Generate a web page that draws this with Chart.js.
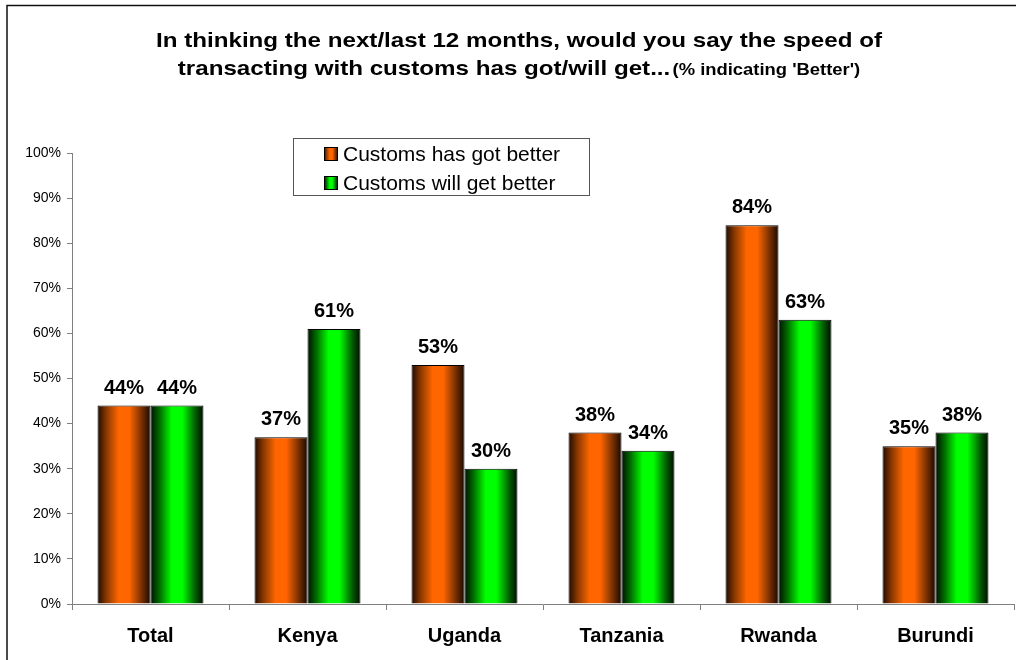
<!DOCTYPE html>
<html>
<head>
    <title>Customs speed - better</title>
    <script src="https://cdn.jsdelivr.net/npm/chart.js"></script>
    <style>
        html, body { margin: 0; padding: 0; background: #fff; }
        #wrap { width: 1016px; height: 660px; }
    </style>
</head>
<body>
    <div id="wrap"><canvas id="customsChart" width="1016" height="660"></canvas></div>
    <script>
        const categories = ['Total', 'Kenya', 'Uganda', 'Tanzania', 'Rwanda', 'Burundi'];
        const hasGotBetter = [44, 37, 53, 38, 84, 35];
        const willGetBetter = [44, 61, 30, 34, 63, 38];
        const yTicks = [0, 10, 20, 30, 40, 50, 60, 70, 80, 90, 100];

        const CAT_PCT = 0.675;

        // cylinder-style shading across each bar
        const orangeStops = [[0, '#200a00'], [0.17, '#8a3800'], [0.4, '#ff6600'], [0.6, '#ff6600'], [0.85, '#6e2c00'], [1, '#1a0800']];
        const greenStops = [[0, '#001000'], [0.17, '#006c00'], [0.4, '#00ff00'], [0.6, '#00ff00'], [0.85, '#005a00'], [1, '#000c00']];

        function barFill(stops) {
            return function(c) {
                const chart = c.chart;
                const xs = chart.scales && chart.scales.x;
                if (c.type !== 'data' || !xs) return stops[2][1];
                const barW = xs.width / categories.length * CAT_PCT / 2;
                const left = xs.getPixelForValue(c.dataIndex) - barW + c.datasetIndex * barW;
                if (!isFinite(left) || !isFinite(barW) || barW <= 0) return stops[2][1];
                const g = chart.ctx.createLinearGradient(left, 0, left + barW, 0);
                stops.forEach(s => g.addColorStop(s[0], s[1]));
                return g;
            };
        }

        //Title, frame, legend box and value labels
        const decorations = {
            id: 'decorations',
            beforeDraw(chart) {
                const ctx = chart.ctx;
                ctx.save();
                ctx.strokeStyle = '#111';
                ctx.lineWidth = 1.5;
                ctx.strokeRect(7, 5.5, 1200, 1000);
                ctx.restore();
            },
            afterDatasetsDraw(chart) {
                const ctx = chart.ctx;
                ctx.save();
                ctx.fillStyle = '#000';
                ctx.font = 'bold 20px "Liberation Sans", Arial, sans-serif';
                ctx.textAlign = 'center';
                ctx.textBaseline = 'alphabetic';
                chart.data.datasets.forEach((ds, di) => {
                    chart.getDatasetMeta(di).data.forEach((el, i) => {
                        ctx.fillText(ds.data[i] + '%', el.x, el.y - 12);
                    });
                });
                ctx.restore();
            },
            afterDraw(chart) {
                const ctx = chart.ctx;
                const big = 'bold 21px "Liberation Sans", Arial, sans-serif';
                const small = 'bold 16px "Liberation Sans", Arial, sans-serif';
                const cx = 519;
                const stretch = 1.15; // title glyphs are a little wider than plain Arial

                ctx.save();
                ctx.fillStyle = '#000';
                ctx.textBaseline = 'alphabetic';
                ctx.translate(cx, 0);
                ctx.scale(stretch, 1);
                ctx.font = big;
                ctx.textAlign = 'center';
                ctx.fillText('In thinking the next/last 12 months, would you say the speed of', 0, 47);

                const part1 = 'transacting with customs has got/will get...';
                const part2 = "(% indicating 'Better')";
                ctx.textAlign = 'left';
                const w1 = ctx.measureText(part1).width;
                ctx.font = small;
                const w2 = ctx.measureText(part2).width;
                const x = -(w1 + w2 + 2) / 2;
                ctx.font = big;
                ctx.fillText(part1, x, 75);
                ctx.font = small;
                ctx.fillText(part2, x + w1 + 2, 75);
                ctx.restore();

                // legend
                ctx.save();
                ctx.strokeStyle = '#555';
                ctx.lineWidth = 1;
                ctx.strokeRect(293.5, 138.5, 296, 57);
                const items = [
                    { label: chart.data.datasets[0].label, stops: orangeStops, y: 154 },
                    { label: chart.data.datasets[1].label, stops: greenStops, y: 183 }
                ];
                ctx.font = '21px "Liberation Sans", Arial, sans-serif';
                ctx.textBaseline = 'middle';
                items.forEach(it => {
                    const g = ctx.createLinearGradient(324, 0, 338, 0);
                    it.stops.forEach(s => g.addColorStop(s[0], s[1]));
                    ctx.fillStyle = g;
                    ctx.fillRect(324, it.y - 7, 14, 14);
                    ctx.strokeStyle = '#000';
                    ctx.strokeRect(324.5, it.y - 6.5, 13, 13);
                    ctx.fillStyle = '#000';
                    ctx.fillText(it.label, 343, it.y + 1);
                });
                ctx.restore();
            }
        };

        new Chart(document.getElementById('customsChart'), {
            type: 'bar',
            data: {
                labels: categories,
                datasets: [
                    {
                        label: 'Customs has got better',
                        data: hasGotBetter,
                        backgroundColor: barFill(orangeStops),
                        borderColor: '#000',
                        borderWidth: 1,
                        categoryPercentage: CAT_PCT,
                        barPercentage: 1
                    },
                    {
                        label: 'Customs will get better',
                        data: willGetBetter,
                        backgroundColor: barFill(greenStops),
                        borderColor: '#000',
                        borderWidth: 1,
                        categoryPercentage: CAT_PCT,
                        barPercentage: 1
                    }
                ]
            },
            options: {
                responsive: false,
                animation: false,
                layout: { padding: { left: 0, top: 153, right: 2, bottom: 0 } },
                plugins: {
                    legend: { display: false },
                    title: { display: false },
                    tooltip: { enabled: false }
                },
                scales: {
                    x: {
                        grid: { drawOnChartArea: false, drawTicks: true, tickLength: 6, color: '#808080' },
                        border: { color: '#808080' },
                        ticks: {
                            color: '#000',
                            padding: 14,
                            font: { family: '"Liberation Sans", Arial, sans-serif', size: 20, weight: 'bold' }
                        },
                        afterFit: s => { s.height = 56; }
                    },
                    y: {
                        min: 0,
                        max: 100,
                        afterBuildTicks: s => { s.ticks = yTicks.map(v => ({ value: v })); },
                        grid: { drawOnChartArea: false, drawTicks: true, tickLength: 5, color: '#808080' },
                        border: { color: '#808080' },
                        ticks: {
                            color: '#000',
                            padding: 6,
                            font: { family: '"Liberation Sans", Arial, sans-serif', size: 14 },
                            callback: v => v + '%'
                        },
                        afterFit: s => { s.width = 72; }
                    }
                }
            },
            plugins: [decorations]
        });
    </script>
</body>
</html>
